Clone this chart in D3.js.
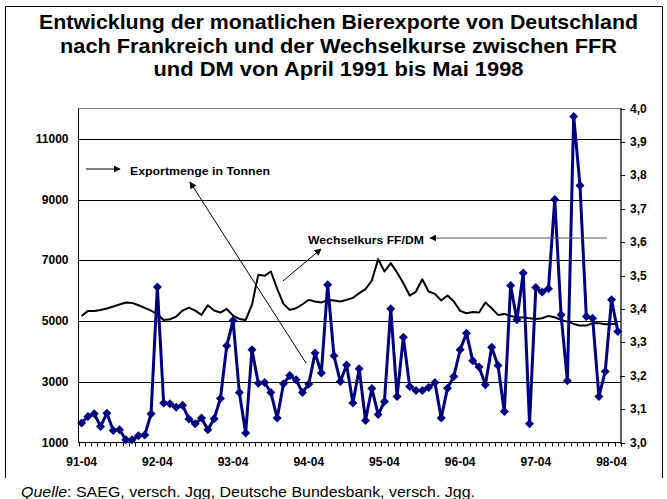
<!DOCTYPE html>
<html lang="de">
<head>
  <meta charset="UTF-8">
  <title>Bierexporte und Wechselkurs</title>
  <script src="https://d3js.org/d3.v7.min.js"></script>
  <style>
    body { margin: 0; background: #fff; font-family: "Liberation Sans", Arial, sans-serif; }
    svg { display: block; font-family: "Liberation Sans", Arial, sans-serif; }
  </style>
</head>
<body>
  <script>
    // Monate April 1991 bis Mai 1998
    const monate = [];
    for (let j = 1991, m = 4; j < 1998 || (j === 1998 && m <= 5); m++) {
      if (m > 12) { m = 1; j++; }
      if (j === 1998 && m > 5) break;
      monate.push(String(j).slice(2) + "-" + String(m).padStart(2, "0"));
    }

    const tickLabels = ["91-04", "92-04", "93-04", "94-04", "95-04", "96-04", "97-04", "98-04"];

    // Exportmenge in Tonnen (linke Achse)
    const exportTonnen = [
      1640, 1860, 1945, 1530, 1965, 1395, 1420, 1090, 1090, 1220, 1245, 1945,
      6120, 2300, 2275, 2165, 2230, 1770, 1615, 1805, 1420, 1780, 2450, 4185,
      5020, 2645, 1310, 4055, 2955, 2975, 2645, 1805, 2935, 3205, 3065, 2645,
      2925, 3945, 3285, 6195, 3855, 3010, 3550, 2300, 3430, 1725, 2780, 1920,
      2350, 5405, 2515, 4470, 2845, 2715, 2715, 2810, 2975, 1805, 2790, 3175,
      4055, 4600, 3690, 3485, 2900, 4140, 3535, 2020, 6170, 5040, 6580, 1620,
      6105, 5955, 6065, 9005, 5205, 3030, 11740, 9465, 5150, 5095, 2515, 3340,
      5700, 4655
    ];

    // Wechselkurs FF/DM (rechte Achse)
    const wechselkurs = [
      3.379, 3.394, 3.394, 3.397, 3.401, 3.407, 3.413, 3.419, 3.418, 3.411, 3.403, 3.395,
      3.384, 3.367, 3.369, 3.377, 3.395, 3.404, 3.395, 3.382, 3.411, 3.395, 3.389, 3.400,
      3.380, 3.370, 3.367, 3.412, 3.502, 3.499, 3.512, 3.460, 3.415, 3.397, 3.402, 3.414,
      3.427, 3.422, 3.419, 3.427, 3.425, 3.422, 3.427, 3.433, 3.447, 3.459, 3.485, 3.549,
      3.512, 3.537, 3.509, 3.477, 3.440, 3.452, 3.489, 3.452, 3.445, 3.425, 3.440, 3.422,
      3.394, 3.387, 3.391, 3.389, 3.419, 3.402, 3.382, 3.385, 3.379, 3.375, 3.374, 3.372,
      3.370, 3.372, 3.379, 3.375, 3.367, 3.362, 3.355, 3.350, 3.350, 3.357, 3.357, 3.354,
      3.355, 3.355
    ];

    const linksTicks = [1000, 3000, 5000, 7000, 9000, 11000];
    const rechtsTicks = [3.0, 3.1, 3.2, 3.3, 3.4, 3.5, 3.6, 3.7, 3.8, 3.9, 4.0];

    const titelZeilen = [
      "Entwicklung der monatlichen Bierexporte von Deutschland",
      "nach Frankreich und der Wechselkurse zwischen FFR",
      "und DM von April 1991 bis Mai 1998"
    ];
    const titelBreiten = [599, 557, 370];

    const width = 667, height = 499;
    const plot = { left: 78.5, right: 621, top: 108.5, bottom: 442.5 };

    const svg = d3.select("body").append("svg")
      .attr("width", width)
      .attr("height", height);

    // Rahmen
    svg.append("path")
      .attr("d", `M5.5,478 V6.5 H662.5 V478`)
      .attr("fill", "none")
      .attr("stroke", "#000")
      .attr("stroke-width", 1);

    // Titel
    svg.append("g").selectAll("text")
      .data(titelZeilen)
      .enter().append("text")
      .attr("x", 338.5)
      .attr("y", (d, i) => 29 + i * 23.5)
      .attr("text-anchor", "middle")
      .attr("font-size", "20.5px")
      .attr("font-weight", "bold")
      .attr("textLength", (d, i) => titelBreiten[i])
      .attr("lengthAdjust", "spacingAndGlyphs")
      .text(d => d);

    const x = d3.scaleBand()
      .domain(monate)
      .range([plot.left, plot.right])
      .padding(0);
    const xc = d => x(d) + x.bandwidth() / 2;

    const yL = d3.scaleLinear().domain([1000, 12000]).range([plot.bottom, plot.top]);
    const yR = d3.scaleLinear().domain([3.0, 4.0]).range([plot.bottom, plot.top]);

    // Plotbereich und Gitternetz
    svg.append("rect")
      .attr("x", plot.left).attr("y", plot.top)
      .attr("width", plot.right - plot.left)
      .attr("height", plot.bottom - plot.top)
      .attr("fill", "none")
      .attr("stroke", "#808080");

    svg.append("g").selectAll("line")
      .data(linksTicks.slice(1))
      .enter().append("line")
      .attr("x1", plot.left).attr("x2", plot.right)
      .attr("y1", d => Math.round(yL(d)) + 0.5)
      .attr("y2", d => Math.round(yL(d)) + 0.5)
      .attr("stroke", "#000");

    // Linke Achse
    const gL = svg.append("g");
    gL.append("line")
      .attr("x1", plot.left).attr("x2", plot.left)
      .attr("y1", plot.top).attr("y2", plot.bottom)
      .attr("stroke", "#000");
    gL.selectAll("text")
      .data(linksTicks)
      .enter().append("text")
      .attr("x", 68.5)
      .attr("y", d => yL(d) + 4)
      .attr("text-anchor", "end")
      .attr("font-size", "12px")
      .attr("font-weight", "bold")
      .text(d => d);

    // Rechte Achse
    const gR = svg.append("g");
    gR.append("line")
      .attr("x1", plot.right).attr("x2", plot.right)
      .attr("y1", plot.top).attr("y2", plot.bottom)
      .attr("stroke", "#000");
    gR.selectAll("line.tick")
      .data(rechtsTicks)
      .enter().append("line")
      .attr("class", "tick")
      .attr("x1", plot.right - 1).attr("x2", plot.right + 4)
      .attr("y1", d => Math.round(yR(d)) + 0.5)
      .attr("y2", d => Math.round(yR(d)) + 0.5)
      .attr("stroke", "#000");
    gR.selectAll("text")
      .data(rechtsTicks)
      .enter().append("text")
      .attr("x", 630)
      .attr("y", d => yR(d) + 4)
      .attr("font-size", "12px")
      .attr("font-weight", "bold")
      .text(d => d3.format(".1f")(d).replace(".", ","));

    // x-Achse
    const gX = svg.append("g");
    gX.append("line")
      .attr("x1", plot.left).attr("x2", plot.right)
      .attr("y1", plot.bottom).attr("y2", plot.bottom)
      .attr("stroke", "#000");
    const grenzen = monate.map(d => x(d)).concat([plot.right]);
    gX.selectAll("line.tick")
      .data(grenzen)
      .enter().append("line")
      .attr("class", "tick")
      .attr("x1", d => Math.round(d) + 0.5).attr("x2", d => Math.round(d) + 0.5)
      .attr("y1", plot.bottom).attr("y2", plot.bottom + 4)
      .attr("stroke", "#000");
    gX.selectAll("text")
      .data(tickLabels)
      .enter().append("text")
      .attr("x", d => xc(d))
      .attr("y", 466)
      .attr("text-anchor", "middle")
      .attr("font-size", "12px")
      .attr("font-weight", "bold")
      .text(d => d);

    // Wechselkurs-Linie
    const kursLinie = d3.line()
      .x((d, i) => xc(monate[i]))
      .y(d => yR(d));
    svg.append("path")
      .datum(wechselkurs)
      .attr("d", kursLinie)
      .attr("fill", "none")
      .attr("stroke", "#000")
      .attr("stroke-width", 2)
      .attr("stroke-linejoin", "round");

    // Export-Linie mit Rauten
    const exportLinie = d3.line()
      .x((d, i) => xc(monate[i]))
      .y(d => yL(d));
    svg.append("path")
      .datum(exportTonnen)
      .attr("d", exportLinie)
      .attr("fill", "none")
      .attr("stroke", "#000080")
      .attr("stroke-width", 3)
      .attr("stroke-linejoin", "round");

    svg.append("g").selectAll("path")
      .data(exportTonnen)
      .enter().append("path")
      .attr("d", "M0,-4.5L4.5,0L0,4.5L-4.5,0Z")
      .attr("transform", (d, i) => `translate(${xc(monate[i])},${yL(d)})`)
      .attr("fill", "#000080");

    // Pfeile und Beschriftungen
    const defs = svg.append("defs");
    defs.append("marker")
      .attr("id", "pfeil")
      .attr("viewBox", "0 0 10 10")
      .attr("refX", 9).attr("refY", 5)
      .attr("markerWidth", 7).attr("markerHeight", 7)
      .attr("markerUnits", "userSpaceOnUse")
      .attr("orient", "auto")
      .append("path")
      .attr("d", "M0,0 L10,5 L0,10 Z")
      .attr("fill", "#000");

    const pfeile = [
      { x1: 86, y1: 169, x2: 120, y2: 169, w: 1.2, c: "#000" },
      { x1: 306, y1: 363, x2: 190, y2: 182, w: 1, c: "#000" },
      { x1: 283, y1: 281, x2: 321, y2: 249, w: 1, c: "#000" },
      { x1: 607, y1: 238, x2: 430, y2: 238, w: 1, c: "#555" }
    ];
    svg.append("g").selectAll("line")
      .data(pfeile)
      .enter().append("line")
      .attr("x1", d => d.x1).attr("y1", d => d.y1)
      .attr("x2", d => d.x2).attr("y2", d => d.y2)
      .attr("stroke", d => d.c)
      .attr("stroke-width", d => d.w)
      .attr("marker-end", "url(#pfeil)");

    svg.append("text")
      .attr("x", 130).attr("y", 175)
      .attr("font-size", "11.5px")
      .attr("font-weight", "bold")
      .attr("textLength", 140)
      .attr("lengthAdjust", "spacingAndGlyphs")
      .text("Exportmenge in Tonnen");

    svg.append("text")
      .attr("x", 308).attr("y", 244)
      .attr("font-size", "11.5px")
      .attr("font-weight", "bold")
      .attr("textLength", 116)
      .attr("lengthAdjust", "spacingAndGlyphs")
      .text("Wechselkurs FF/DM");

    // Quelle
    const quelle = svg.append("text")
      .attr("x", 21).attr("y", 497)
      .attr("font-size", "15px")
      .attr("textLength", 454)
      .attr("lengthAdjust", "spacingAndGlyphs");
    quelle.append("tspan").attr("font-style", "italic").text("Quelle");
    quelle.append("tspan").text(": SAEG, versch. Jgg, Deutsche Bundesbank, versch. Jgg.");
  </script>
</body>
</html>
